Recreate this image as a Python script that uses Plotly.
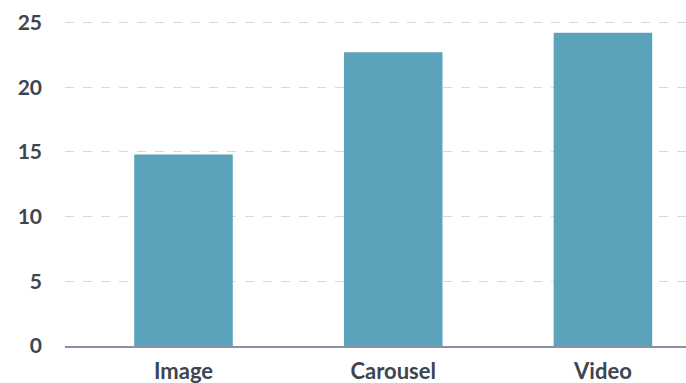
import plotly.graph_objects as go

categories = ["Image", "Carousel", "Video"]
values = [14.8, 22.7, 24.2]
y_ticks = [0, 5, 10, 15, 20, 25]

fig = go.Figure(go.Bar(
    x=categories, y=values,
    marker=dict(color="#5ba3bb", line=dict(width=0)),
    hoverinfo="skip",
))

fig.update_layout(
    width=686, height=383,
    margin=dict(l=65, r=0, t=16, b=37),
    paper_bgcolor="white", plot_bgcolor="white",
    bargap=0.53,
    showlegend=False,
    font=dict(family="Lato", color="#3d4550"),
)
fig.update_xaxes(
    range=[-0.565, 2.396],
    showgrid=False, zeroline=False,
    showline=True, linecolor="#8c8fa8", linewidth=2,
    ticks="",
    ticklabelstandoff=5,
    tickfont=dict(family="Lato", size=22, color="#3d4550", weight="bold"),
)
fig.update_yaxes(
    range=[0, 25.5], tickvals=y_ticks,
    showgrid=True, gridcolor="#d9d9d9", gridwidth=1, griddash="dash",
    zeroline=False, showline=False, ticks="",
    ticklabelstandoff=22,
    tickfont=dict(family="Lato", size=21, color="#3d4550", weight="bold"),
)

fig.write_html("out.html")
